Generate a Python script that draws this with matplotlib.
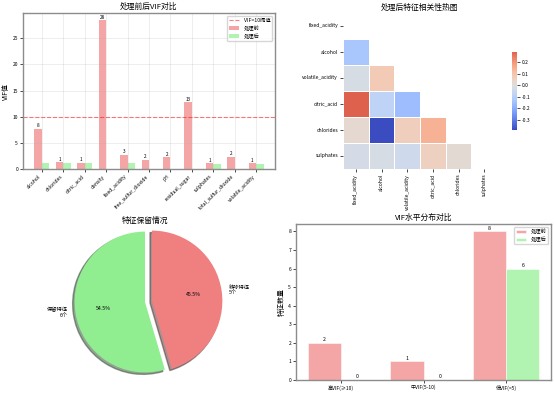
import numpy as np
import matplotlib
matplotlib.use("Agg")
import matplotlib.pyplot as plt
import seaborn as sns

plt.rcParams['font.family'] = ['Noto Sans CJK SC', 'DejaVu Sans']
plt.rcParams['axes.unicode_minus'] = False

# 处理前后 VIF
features = ['alcohol', 'chlorides', 'citric_acid', 'density', 'fixed_acidity',
            'free_sulfur_dioxide', 'pH', 'residual_sugar', 'sulphates',
            'total_sulfur_dioxide', 'volatile_acidity']
vif_before = [7.7, 1.3, 1.15, 28.4, 2.7, 1.8, 2.2, 12.8, 1.1, 2.3, 1.1]
vif_after = [1.2, 1.2, 1.1, np.nan, 1.1, np.nan, np.nan, np.nan, 1.0, np.nan, 1.0]

# 处理后相关性 (下三角)
kept = ['fixed_acidity', 'alcohol', 'volatile_acidity', 'citric_acid', 'chlorides', 'sulphates']
corr_lower = [
    [],
    [-0.13],
    [-0.02, 0.08],
    [0.29, -0.08, -0.16],
    [0.025, -0.39, 0.065, 0.145],
    [-0.025, -0.02, -0.04, 0.06, 0.02],
]

# 特征保留
pie_labels = ['保留特征\n6个', '移除特征\n5个']
pie_sizes = [6, 5]

# VIF 水平分布
levels = ['高VIF(≥10)', '中VIF(5-10)', '低VIF(<5)']
level_before = [2, 1, 8]
level_after = [0, 0, 6]

c_red = 'lightcoral'
c_green = 'lightgreen'
W, H = 554, 394

fig = plt.figure(figsize=(5.54, 3.94), dpi=100)

def px(l, t, r, b):
    return [l / W, (H - b) / H, (r - l) / W, (b - t) / H]

def frame(ax):
    for s in ax.spines.values():
        s.set_color('#8c8c8c')
        s.set_linewidth(1.0)
    ax.tick_params(labelsize=3.6, length=2, width=0.5, pad=1.5)

# 1. VIF对比
ax1 = fig.add_axes(px(23, 13, 275, 169))
x = np.arange(len(features))
w = 0.35
hl = ax1.axhline(10, color='red', linestyle='--', alpha=0.5, linewidth=0.8, label='VIF=10阈值')
b1 = ax1.bar(x - w / 2, vif_before, w, color=c_red, alpha=0.7, label='处理前')
b2 = ax1.bar(x + w / 2, vif_after, w, color=c_green, alpha=0.7, label='处理后')
for xi, v in zip(x, vif_before):
    ax1.text(xi - w / 2, v + 0.1, f'{v:.0f}', ha='center', va='bottom', fontsize=3.4)
ax1.set_xticks(x)
ax1.set_xticklabels(features, rotation=45, ha='right')
ax1.set_ylabel('VIF值', fontsize=5, labelpad=2)
ax1.set_title('处理前后VIF对比', fontsize=5.6, pad=3)
ax1.grid(True, alpha=0.3, linewidth=0.5)
ax1.legend(handles=[hl, b1, b2], fontsize=3.8, loc='upper right')
frame(ax1)

# 2. 相关性热图
corr = np.eye(len(kept))
for i, row in enumerate(corr_lower):
    for j, v in enumerate(row):
        corr[i, j] = v
        corr[j, i] = v
mask = np.triu(np.ones_like(corr, dtype=bool))
ax2 = fig.add_axes(px(343, 13, 497, 169))
cax = fig.add_axes(px(512, 52, 517, 130))
sns.heatmap(corr, mask=mask, cmap='coolwarm', center=0, linewidths=0.5,
            xticklabels=kept, yticklabels=kept, ax=ax2, cbar_ax=cax)
ax2.set_title('处理后特征相关性热图', fontsize=5.6, pad=2.5)
ax2.tick_params(labelsize=3.6, length=2, width=0.5, pad=1.5)
plt.setp(ax2.get_xticklabels(), rotation=90)
plt.setp(ax2.get_yticklabels(), rotation=0)
cax.tick_params(labelsize=3.6, length=2, width=0.5, pad=1.5)

# 3. 饼图
ax3 = fig.add_axes(px(57, 214, 233, 390))
ax3.pie(pie_sizes, labels=pie_labels, colors=[c_green, c_red], explode=(0, 0.1),
        autopct='%1.1f%%', startangle=90, shadow=True,
        textprops={'fontsize': 3.8})
ax3.set_title('特征保留情况', fontsize=5.6, y=0.905)

# 4. VIF水平分布
ax4 = fig.add_axes(px(296, 224, 551, 380))
xl = np.arange(len(levels))
w2 = 0.4
r1 = ax4.bar(xl - w2 / 2, level_before, w2, color=c_red, alpha=0.7, edgecolor='white',
             linewidth=0.5, label='处理前')
r2 = ax4.bar(xl + w2 / 2, level_after, w2, color=c_green, alpha=0.7, edgecolor='white',
             linewidth=0.5, label='处理后')
for rects in (r1, r2):
    for r in rects:
        ax4.text(r.get_x() + r.get_width() / 2, r.get_height() + 0.05, f'{int(r.get_height())}',
                 ha='center', va='bottom', fontsize=3.8)
ax4.set_xticks(xl)
ax4.set_xticklabels(levels)
ax4.set_ylabel('特征数量', fontsize=5, labelpad=2)
ax4.set_title('VIF水平分布对比', fontsize=5.6, pad=3)
ax4.legend(fontsize=3.8, loc='upper right')
frame(ax4)

fig.savefig('out.png', dpi=100)
